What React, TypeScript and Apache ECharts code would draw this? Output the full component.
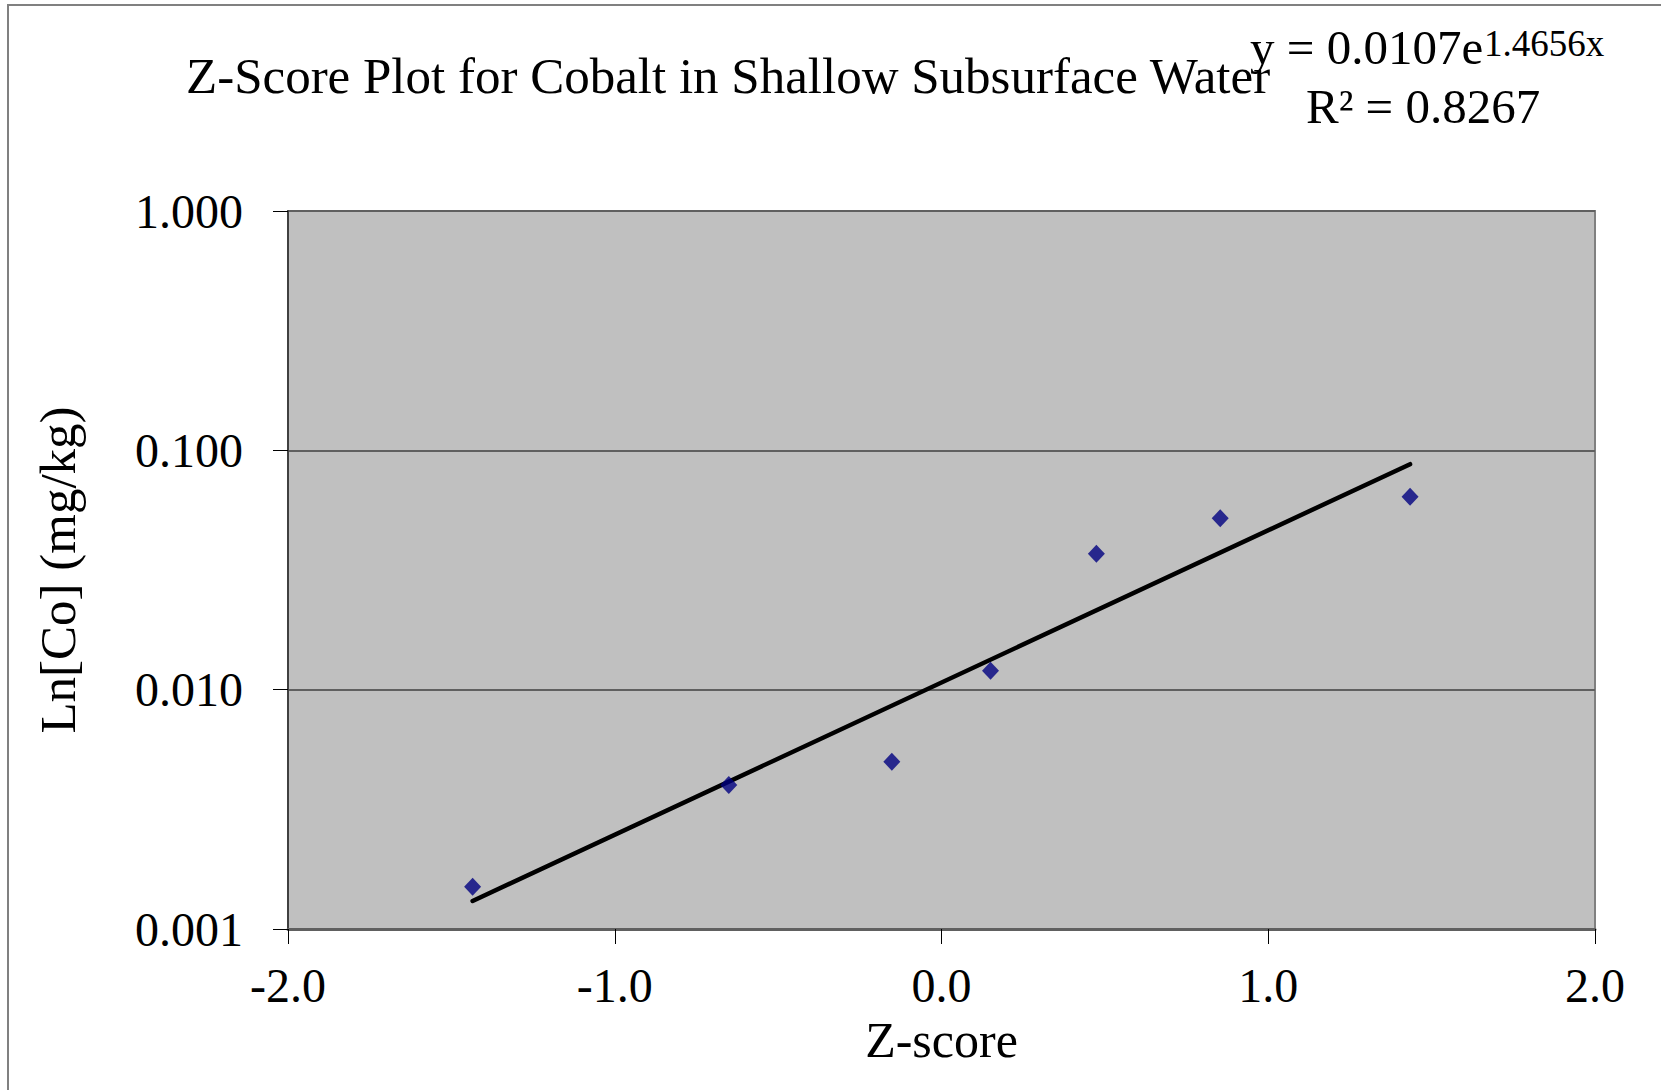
import React, { useEffect, useRef } from "react";
import * as echarts from "echarts";

const zScores = [-1.435, -0.651, -0.152, 0.15, 0.474, 0.853, 1.434];
const cobalt = [0.0015, 0.004, 0.005, 0.012, 0.037, 0.052, 0.064];
const trendX = [-1.435, 1.434];
const trendY = [0.00131, 0.0875];
const titleText = "Z-Score Plot for Cobalt in Shallow Subsurface Water";
const eqMain = "y = 0.0107e";
const eqExp = "1.4656x";
const r2Text = "R² = 0.8267";

const FONT = "'Liberation Serif', 'Times New Roman', Times, serif";

export default function App() {
  const ref = useRef<HTMLDivElement>(null);
  useEffect(() => {
    if (!ref.current) return;
    const chart = echarts.init(ref.current, undefined, { renderer: "svg" });
    chart.setOption({
      animation: false,
      backgroundColor: "#ffffff",
      textStyle: { fontFamily: FONT },
      grid: {
        left: 288,
        right: 66,
        top: 211,
        bottom: 161,
        show: true,
        backgroundColor: "#C0C0C0",
        borderColor: "#808080",
        borderWidth: 2,
      },
      xAxis: {
        type: "value",
        min: -2,
        max: 2,
        interval: 1,
        name: "Z-score",
        nameLocation: "middle",
        nameGap: 89,
        nameMoveOverlap: false,
        nameTextStyle: { fontFamily: FONT, fontSize: 50, lineHeight: 44, color: "#000" },
        axisLine: { show: true, onZero: false, lineStyle: { color: "#606060", width: 3 } },
        axisTick: { show: true, length: 15, lineStyle: { color: "#000", width: 1 } },
        axisLabel: {
          margin: 36,
          fontFamily: FONT,
          fontSize: 48,
          lineHeight: 40,
          color: "#000",
          formatter: (v: number) => v.toFixed(1),
        },
        splitLine: { show: false },
      },
      yAxis: {
        type: "log",
        logBase: 10,
        min: 0.001,
        max: 1,
        interval: 1,
        name: "Ln[Co] (mg/kg)",
        nameLocation: "middle",
        nameRotate: 90,
        nameGap: 205,
        nameTextStyle: { fontFamily: FONT, fontSize: 51, color: "#000" },
        axisLine: { show: true, onZero: false, lineStyle: { color: "#404040", width: 2 } },
        axisTick: { show: true, length: 15, lineStyle: { color: "#000", width: 1 } },
        axisLabel: {
          margin: 45,
          fontFamily: FONT,
          fontSize: 48,
          color: "#000",
          formatter: (v: number) => v.toFixed(3),
        },
        splitLine: { show: true, lineStyle: { color: "#606060", width: 2 } },
        minorTick: { show: false },
      },
      series: [
        {
          type: "line",
          data: trendX.map((x, i) => [x, trendY[i]]),
          showSymbol: false,
          symbol: "none",
          lineStyle: { color: "#000", width: 4.5, cap: "round" },
          z: 2,
        },
        {
          type: "scatter",
          data: zScores.map((x, i) => [x, cobalt[i]]),
          symbol: "diamond",
          symbolSize: [17, 18],
          itemStyle: { color: "#000080" },
          z: 3,
        },
      ],
      graphic: [
        {
          type: "rect",
          shape: { x: 8, y: 5, width: 1700, height: 1200 },
          style: { fill: "none", stroke: "#808080", lineWidth: 2 },
          silent: true,
          z: 0,
        },
        {
          type: "text",
          x: 186,
          y: 76,
          style: {
            text: titleText,
            fontFamily: FONT,
            fontSize: 51,
            fill: "#000",
            align: "left",
            verticalAlign: "middle",
          },
          z: 10,
        },
        {
          type: "text",
          x: 1250,
          y: 47,
          style: {
            text: eqMain,
            fontFamily: FONT,
            fontSize: 49,
            fill: "#000",
            align: "left",
            verticalAlign: "middle",
          },
          z: 10,
        },
        {
          type: "text",
          x: 1484,
          y: 43,
          style: {
            text: eqExp,
            fontFamily: FONT,
            fontSize: 37,
            fill: "#000",
            align: "left",
            verticalAlign: "middle",
          },
          z: 10,
        },
        {
          type: "text",
          x: 1306,
          y: 106,
          style: {
            text: r2Text,
            fontFamily: FONT,
            fontSize: 49,
            fill: "#000",
            align: "left",
            verticalAlign: "middle",
          },
          z: 10,
        },
      ],
    });
    return () => chart.dispose();
  }, []);
  return (
    <div
      ref={ref}
      style={{ position: "absolute", left: 0, top: 0, width: 1661, height: 1090 }}
    />
  );
}
